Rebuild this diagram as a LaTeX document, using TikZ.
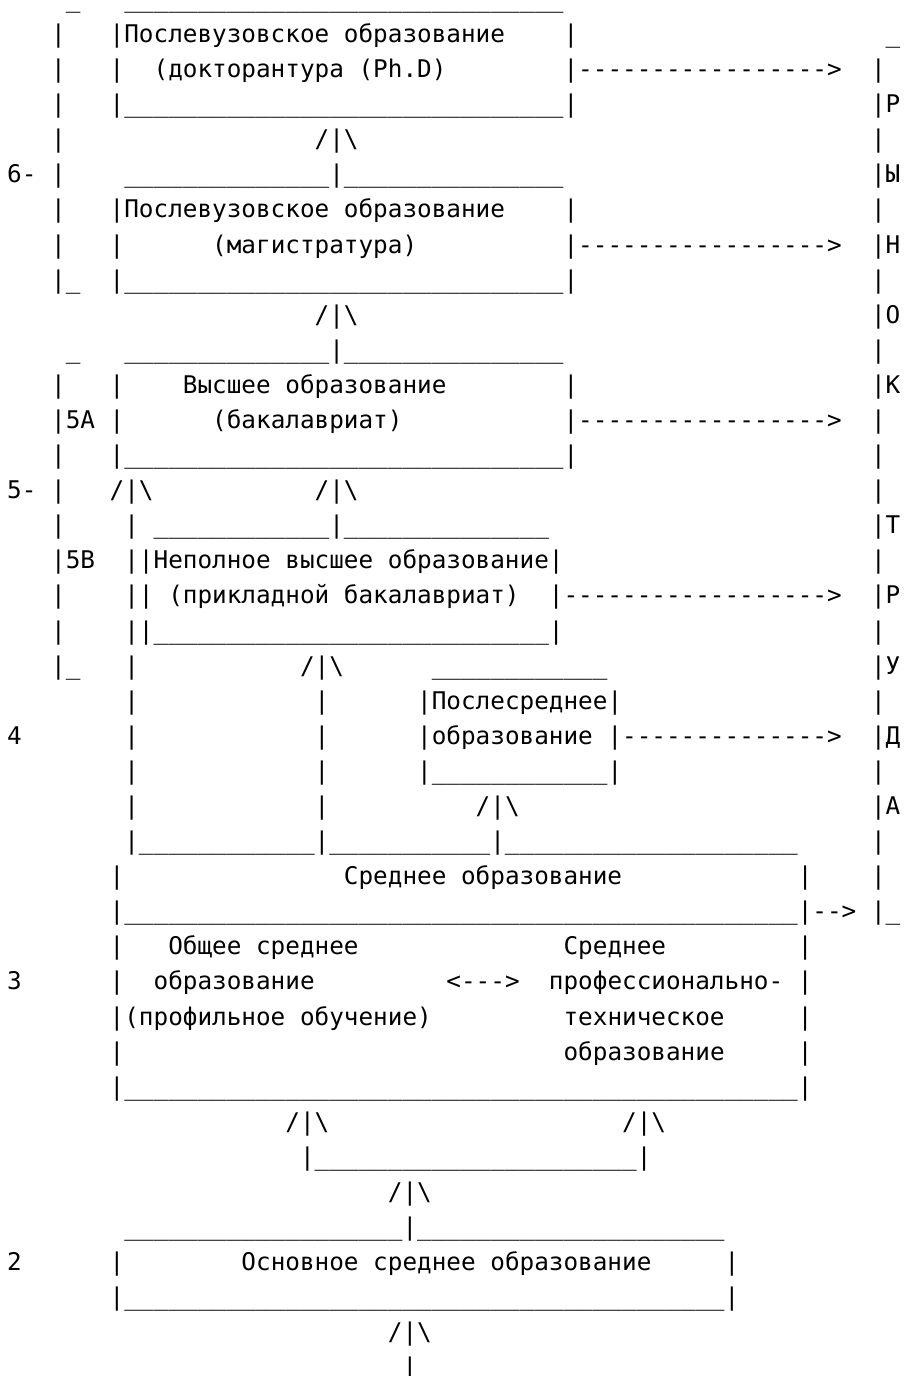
\documentclass[tikz,border=0pt]{standalone}
\usepackage{fontspec}
\setmonofont{DejaVu Sans Mono}
\ExplSyntaxOn
\cs_new:Npn \myrep #1#2 { \prg_replicate:nn {#1} {#2} }
\ExplSyntaxOff
\newdimen\mycw \mycw=14.642pt
\newcommand\mysp[1]{\hspace*{#1\mycw}}
\newcommand\myus[1]{\myrep{#1}{\_}}
\newcommand\mydash[1]{\myrep{#1}{-}}
\newcommand\myup{/|\textbackslash}
\tikzset{ln/.style={anchor=base west, inner sep=0pt, outer sep=0pt,
  font=\ttfamily\fontsize{24.32pt}{35pt}\selectfont\frenchspacing}}
\begin{document}
\begin{tikzpicture}[x=1pt,y=-1pt]
\fill[white] (0,0) rectangle (906,1376);
\useasboundingbox (0,0) rectangle (906,1376);
\node[ln] (l0) at (7.2,7.4+35.09*0) {\mysp{4}\_\mysp{3}\myus{30}};
\node[ln] (l1) at (7.2,7.4+35.09*1) {\mysp{3}|\mysp{3}|Послевузовское образование\mysp{4}|\mysp{21}\_};
\node[ln] (l2) at (7.2,7.4+35.09*2) {\mysp{3}|\mysp{3}|\mysp{2}(докторантура (Ph.D)\mysp{8}|\mydash{17}>\mysp{2}|};
\node[ln] (l3) at (7.2,7.4+35.09*3) {\mysp{3}|\mysp{3}|\myus{30}|\mysp{20}|Р};
\node[ln] (l4) at (7.2,7.4+35.09*4) {\mysp{3}|\mysp{17}\myup\mysp{35}|};
\node[ln] (l5) at (7.2,7.4+35.09*5) {6-\mysp{1}|\mysp{4}\myus{14}|\myus{15}\mysp{21}|Ы};
\node[ln] (l6) at (7.2,7.4+35.09*6) {\mysp{3}|\mysp{3}|Послевузовское образование\mysp{4}|\mysp{20}|};
\node[ln] (l7) at (7.2,7.4+35.09*7) {\mysp{3}|\mysp{3}|\mysp{6}(магистратура)\mysp{10}|\mydash{17}>\mysp{2}|Н};
\node[ln] (l8) at (7.2,7.4+35.09*8) {\mysp{3}|\_\mysp{2}|\myus{30}|\mysp{20}|};
\node[ln] (l9) at (7.2,7.4+35.09*9) {\mysp{21}\myup\mysp{35}|О};
\node[ln] (l10) at (7.2,7.4+35.09*10) {\mysp{4}\_\mysp{3}\myus{14}|\myus{15}\mysp{21}|};
\node[ln] (l11) at (7.2,7.4+35.09*11) {\mysp{3}|\mysp{3}|\mysp{4}Высшее образование\mysp{8}|\mysp{20}|К};
\node[ln] (l12) at (7.2,7.4+35.09*12) {\mysp{3}|5A\mysp{1}|\mysp{6}(бакалавриат)\mysp{11}|\mydash{17}>\mysp{2}|};
\node[ln] (l13) at (7.2,7.4+35.09*13) {\mysp{3}|\mysp{3}|\myus{30}|\mysp{20}|};
\node[ln] (l14) at (7.2,7.4+35.09*14) {5-\mysp{1}|\mysp{3}\myup\mysp{11}\myup\mysp{35}|};
\node[ln] (l15) at (7.2,7.4+35.09*15) {\mysp{3}|\mysp{4}|\mysp{1}\myus{12}|\myus{14}\mysp{22}|Т};
\node[ln] (l16) at (7.2,7.4+35.09*16) {\mysp{3}|5B\mysp{2}||Неполное высшее образование|\mysp{21}|};
\node[ln] (l17) at (7.2,7.4+35.09*17) {\mysp{3}|\mysp{4}||\mysp{1}(прикладной бакалавриат)\mysp{2}|\mydash{18}>\mysp{2}|Р};
\node[ln] (l18) at (7.2,7.4+35.09*18) {\mysp{3}|\mysp{4}||\myus{27}|\mysp{21}|};
\node[ln] (l19) at (7.2,7.4+35.09*19) {\mysp{3}|\_\mysp{3}|\mysp{11}\myup\mysp{6}\myus{12}\mysp{18}|У};
\node[ln] (l20) at (7.2,7.4+35.09*20) {\mysp{8}|\mysp{12}|\mysp{6}|Послесреднее|\mysp{17}|};
\node[ln] (l21) at (7.2,7.4+35.09*21) {4\mysp{7}|\mysp{12}|\mysp{6}|образование\mysp{1}|\mydash{14}>\mysp{2}|Д};
\node[ln] (l22) at (7.2,7.4+35.09*22) {\mysp{8}|\mysp{12}|\mysp{6}|\myus{12}|\mysp{17}|};
\node[ln] (l23) at (7.2,7.4+35.09*23) {\mysp{8}|\mysp{12}|\mysp{10}\myup\mysp{24}|А};
\node[ln] (l24) at (7.2,7.4+35.09*24) {\mysp{8}|\myus{12}|\myus{11}|\myus{20}\mysp{5}|};
\node[ln] (l25) at (7.2,7.4+35.09*25) {\mysp{7}|\mysp{15}Среднее образование\mysp{12}|\mysp{4}|};
\node[ln] (l26) at (7.2,7.4+35.09*26) {\mysp{7}|\myus{46}|\mydash{2}>\mysp{1}|\_};
\node[ln] (l27) at (7.2,7.4+35.09*27) {\mysp{7}|\mysp{3}Общее среднее\mysp{14}Среднее\mysp{9}|};
\node[ln] (l28) at (7.2,7.4+35.09*28) {3\mysp{6}|\mysp{2}образование\mysp{9}<\mydash{3}>\mysp{2}профессионально-\mysp{1}|};
\node[ln] (l29) at (7.2,7.4+35.09*29) {\mysp{7}|(профильное обучение)\mysp{9}техническое\mysp{5}|};
\node[ln] (l30) at (7.2,7.4+35.09*30) {\mysp{7}|\mysp{30}образование\mysp{5}|};
\node[ln] (l31) at (7.2,7.4+35.09*31) {\mysp{7}|\myus{46}|};
\node[ln] (l32) at (7.2,7.4+35.09*32) {\mysp{19}\myup\mysp{20}\myup};
\node[ln] (l33) at (7.2,7.4+35.09*33) {\mysp{20}|\myus{22}|};
\node[ln] (l34) at (7.2,7.4+35.09*34) {\mysp{26}\myup};
\node[ln] (l35) at (7.2,7.4+35.09*35) {\mysp{8}\myus{19}|\myus{21}};
\node[ln] (l36) at (7.2,7.4+35.09*36) {2\mysp{6}|\mysp{8}Основное среднее образование\mysp{5}|};
\node[ln] (l37) at (7.2,7.4+35.09*37) {\mysp{7}|\myus{41}|};
\node[ln] (l38) at (7.2,7.4+35.09*38) {\mysp{26}\myup};
\node[ln] (l39) at (7.2,7.4+35.09*39) {\mysp{27}|};
\end{tikzpicture}
\end{document}
